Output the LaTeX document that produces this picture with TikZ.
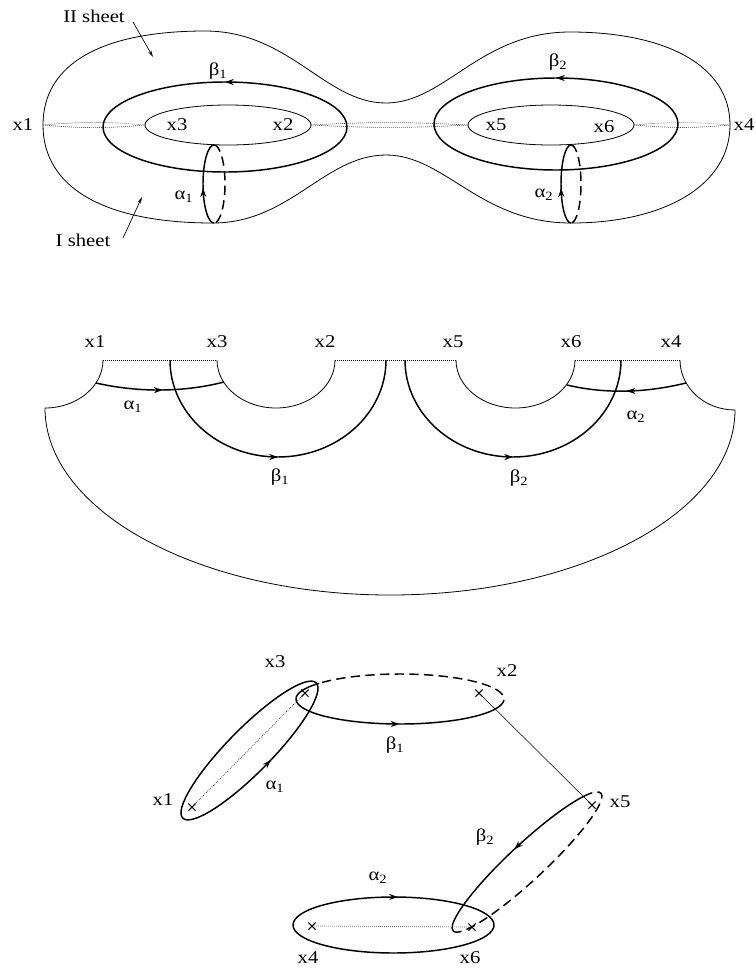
\documentclass[tikz,border=0pt]{standalone}
\usepackage{fontspec}
\setmainfont{Liberation Serif}[FakeStretch=1.15]
\usetikzlibrary{arrows.meta,decorations.markings,shapes.misc}

\begin{document}
\begin{tikzpicture}[x=0.75pt,y=0.75pt,yscale=-1,xscale=1,
    font=\fontsize{13.5}{15}\selectfont,
    edge/.style={line width=0.6pt},
    loopline/.style={line width=1.1pt},
    backline/.style={line width=1.1pt,dash pattern=on 7pt off 4pt},
    cut/.style={densely dotted,line width=0.5pt},
    pointer/.style={line width=0.5pt,-{Stealth[length=5pt,width=2.5pt]}},
    midarrow/.style={postaction={decorate},decoration={markings,mark=at position #1 with {\arrow{Stealth[length=6.5pt,width=4.5pt]}}}},
    branch/.style={cross out,draw,line width=0.8pt,minimum size=4.5pt,inner sep=0pt},
    lbl/.style={inner sep=0.75pt}]
    \useasboundingbox (0,0) rectangle (756,972);

    %%%%% two-sheeted surface
    %Shape: outer surface
    \draw[edge] (43,125) .. controls (43,62) and (105,31) .. (205,31) .. controls (290,31) and (325,103) .. (386,103) .. controls (445,103) and (480,32) .. (570,32) .. controls (665,32) and (730,65) .. (730,125) .. controls (730,185) and (665,223) .. (571,223) .. controls (480,223) and (445,155) .. (386,155) .. controls (325,155) and (290,223) .. (213,223) .. controls (105,223) and (43,188) .. (43,125) -- cycle ;
    %Shape: Ellipse (holes)
    \draw[edge] (228,125) ellipse [x radius=83,y radius=20];
    \draw[edge] (551,125) ellipse [x radius=83,y radius=20];
    %Shape: Ellipse (beta cycles)
    \draw[loopline,midarrow=0.25] (347,127) arc [start angle=0,end angle=-360,x radius=122,y radius=45];
    \draw[loopline,midarrow=0.25] (678,124) arc [start angle=0,end angle=-360,x radius=122,y radius=46];
    %Shape: Arc (alpha cycles)
    \draw[loopline,midarrow=0.45] (214,223) arc [start angle=90,end angle=270,x radius=11,y radius=39];
    \draw[backline] (214,145) arc [start angle=270,end angle=450,x radius=11,y radius=39];
    \draw[loopline,midarrow=0.45] (571,223) arc [start angle=90,end angle=270,x radius=10,y radius=39];
    \draw[backline] (571,145) arc [start angle=270,end angle=450,x radius=10,y radius=39];
    %Branch points and cuts
    \coordinate (t1) at (43,125);
    \coordinate (t3) at (145,125);
    \coordinate (t2) at (311,125);
    \coordinate (t5) at (468,125);
    \coordinate (t6) at (634,125);
    \coordinate (t4) at (730,125);
    \draw[cut] (t1) to[bend left=5] (t3) to[bend left=5] (t1);
    \draw[cut] (t2) to[bend left=3] (t5) to[bend left=3] (t2);
    \draw[cut] (t6) to[bend left=5] (t4) to[bend left=5] (t6);

    % Text Node
    \node[lbl] (top-x1) at (23,125) {x1};
    \node[lbl] (top-x3) at (177,125) {x3};
    \node[lbl] (top-x2) at (283,125) {x2};
    \node[lbl] (top-x5) at (496,125) {x5};
    \node[lbl] (top-x6) at (604,127) {x6};
    \node[lbl] (top-x4) at (744,125) {x4};
    \node[lbl] (top-b1) at (218,71) {β\textsubscript{1}};
    \node[lbl] (top-b2) at (558,62) {β\textsubscript{2}};
    \node[lbl] (top-a1) at (184,197) {α\textsubscript{1}};
    \node[lbl] (top-a2) at (544,195) {α\textsubscript{2}};
    \node[lbl] (sheet2) at (94,16) {II sheet};
    \node[lbl] (sheet1) at (83,240) {I sheet};
    %Straight Lines (pointers)
    \coordinate (sheet2-from) at (133,22);
    \coordinate (sheet2-to) at (153,57);
    \coordinate (sheet1-from) at (123,238);
    \coordinate (sheet1-to) at (142,197);
    \draw[pointer] (sheet2-from) -- (sheet2-to);
    \draw[pointer] (sheet1-from) -- (sheet1-to);

    %%%%% cut-open sheet
    \coordinate (m1) at (103,360);
    \coordinate (m3) at (217,360);
    \coordinate (m2) at (335,360);
    \coordinate (m5) at (456,360);
    \coordinate (m6) at (575,360);
    \coordinate (m4) at (680,360);
    %Shape: boundary
    \draw[edge] (m1) arc [start angle=0,end angle=90,x radius=58,y radius=48] arc [start angle=180,end angle=90,x radius=345,y radius=187] arc [start angle=90,end angle=0,x radius=345,y radius=185] arc [start angle=90,end angle=180,x radius=55,y radius=50];
    \draw[edge] (m3) arc [start angle=180,end angle=0,x radius=59,y radius=48];
    \draw[edge] (m5) arc [start angle=180,end angle=0,x radius=59.5,y radius=48];
    %Straight Lines (cuts)
    \draw[cut] (m1) -- (m3);
    \draw[cut] (m2) -- (m5);
    \draw[cut] (m6) -- (m4);
    %Shape: Arc (beta)
    \draw[loopline,midarrow=0.5] (170,360) arc [start angle=180,end angle=0,x radius=108,y radius=97];
    \draw[loopline,midarrow=0.5] (405,360) arc [start angle=180,end angle=0,x radius=108,y radius=97];
    %Curve Lines (alpha)
    \draw[loopline,midarrow=0.52] (96,383) .. controls (140,393) and (185,392) .. (224,382);
    \draw[loopline,midarrow=0.5] (686,383) .. controls (645,393) and (605,394) .. (567,385);

    % Text Node
    \node[lbl] (mid-x1) at (95,342) {x1};
    \node[lbl] (mid-x3) at (217,342) {x3};
    \node[lbl] (mid-x2) at (325,342) {x2};
    \node[lbl] (mid-x5) at (453,342) {x5};
    \node[lbl] (mid-x6) at (571,342) {x6};
    \node[lbl] (mid-x4) at (671,342) {x4};
    \node[lbl] (mid-a1) at (133,407) {α\textsubscript{1}};
    \node[lbl] (mid-b1) at (280,477) {β\textsubscript{1}};
    \node[lbl] (mid-b2) at (519,478) {β\textsubscript{2}};
    \node[lbl] (mid-a2) at (636,417) {α\textsubscript{2}};

    %%%%% branch points in the plane
    \node[branch] (p1) at (192,807) {};
    \node[branch] (p3) at (305,693) {};
    \node[branch] (p2) at (479,693) {};
    \node[branch] (p5) at (592,805) {};
    \node[branch] (p4) at (312,926) {};
    \node[branch] (p6) at (472,927) {};
    %Straight Lines (cuts)
    \draw[cut] (p1.center) -- (p3.center);
    \draw[line width=0.4pt] (p2.center) -- (p5.center);
    \draw[cut] (p4.center) -- (p6.center);
    %Shape: Ellipse (alpha 1)
    \begin{scope}[shift={(249.5,750.5)},rotate=-45.4]
        \draw[loopline,midarrow=0.27] (180:95 and 22) arc [start angle=180,end angle=-180,x radius=95,y radius=22];
    \end{scope}
    %Shape: Ellipse (beta 1)
    \draw[loopline,midarrow=0.58] (400,699) ++(219:104 and 25) arc [start angle=219,end angle=19,x radius=104,y radius=25];
    \draw[backline] (400,699) ++(19:104 and 25) arc [start angle=19,end angle=-141,x radius=104,y radius=25];
    %Shape: Ellipse (beta 2)
    \begin{scope}[shift={(527,862)},rotate=-43]
        \draw[loopline,midarrow=0.46] (330:101 and 18) arc [start angle=330,end angle=182,x radius=101,y radius=18];
        \draw[backline] (182:101 and 18) arc [start angle=182,end angle=-30,x radius=101,y radius=18];
    \end{scope}
    %Shape: Ellipse (alpha 2)
    \draw[loopline,midarrow=0.26] (293,925) arc [start angle=180,end angle=540,x radius=100.5,y radius=28];

    % Text Node
    \node[lbl] (bot-x3) at (275,662) {x3};
    \node[lbl] (bot-x1) at (163,800) {x1};
    \node[lbl] (bot-x2) at (507,671) {x2};
    \node[lbl] (bot-x5) at (620,802) {x5};
    \node[lbl] (bot-x4) at (308,958) {x4};
    \node[lbl] (bot-x6) at (470,958) {x6};
    \node[lbl] (bot-a1) at (275,787) {α\textsubscript{1}};
    \node[lbl] (bot-b1) at (395,745) {β\textsubscript{1}};
    \node[lbl] (bot-b2) at (485,837) {β\textsubscript{2}};
    \node[lbl] (bot-a2) at (378,878) {α\textsubscript{2}};

\end{tikzpicture}
\end{document}
